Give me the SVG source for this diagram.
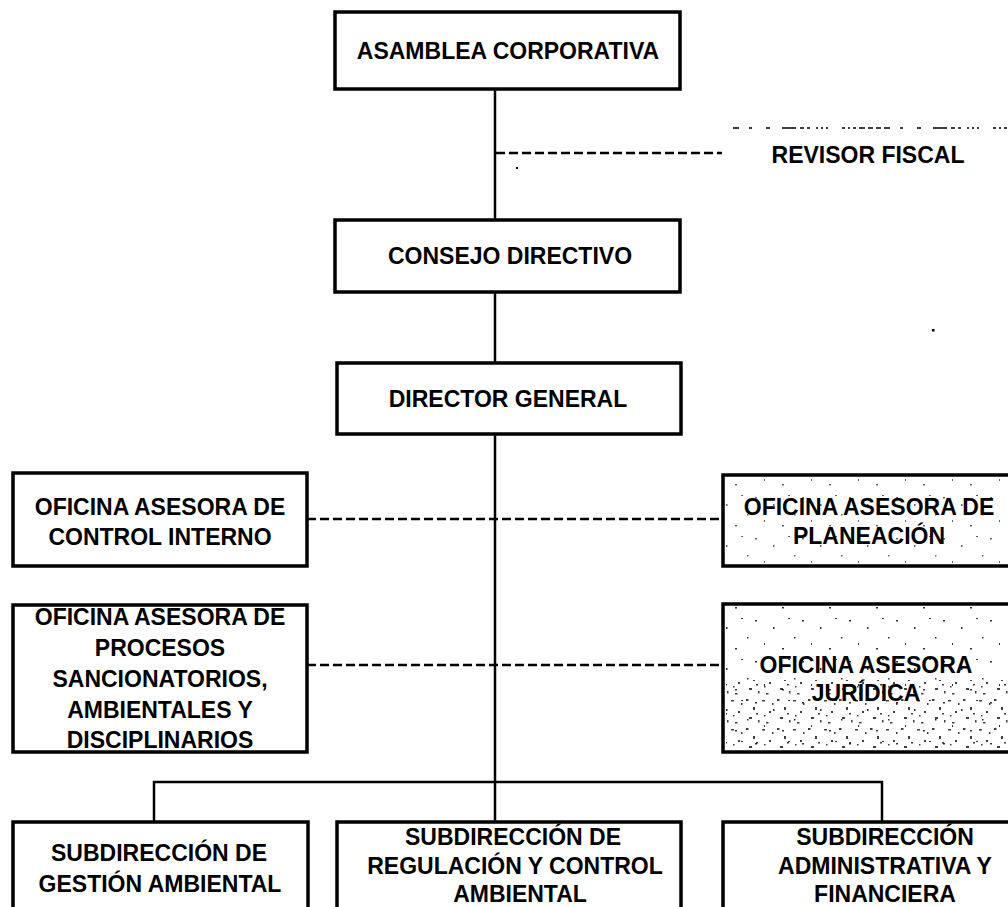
<svg xmlns="http://www.w3.org/2000/svg" width="1008" height="907" viewBox="0 0 1008 907">
<style>
.box{fill:#fff;stroke:#000;stroke-width:3.5}
.t{font-family:"Liberation Sans",Arial,sans-serif;font-weight:bold;font-size:23px;fill:#000;text-anchor:middle}
.ln{stroke:#000;stroke-width:2.5;fill:none}
.dash{stroke:#000;stroke-width:2.5;fill:none;stroke-dasharray:9 4}
</style>
<defs>
<pattern id="sp1" width="47" height="41" patternUnits="userSpaceOnUse">
<rect x="3" y="5" width="2" height="1.5" fill="#000"/>
<rect x="21" y="12" width="1.5" height="2" fill="#000"/>
<rect x="36" y="3" width="2" height="1" fill="#000"/>
<rect x="12" y="28" width="1" height="2" fill="#000"/>
<rect x="30" y="33" width="2" height="1.5" fill="#000"/>
<rect x="42" y="22" width="1.5" height="1.5" fill="#000"/>
</pattern>
<pattern id="sp2" width="31" height="29" patternUnits="userSpaceOnUse">
<rect x="2" y="3" width="2.5" height="2" fill="#000"/>
<rect x="9" y="11" width="2" height="3" fill="#000"/>
<rect x="18" y="4" width="3" height="1.5" fill="#000"/>
<rect x="25" y="15" width="2" height="2" fill="#000"/>
<rect x="5" y="21" width="3" height="2" fill="#000"/>
<rect x="14" y="24" width="1.5" height="2.5" fill="#000"/>
<rect x="22" y="26" width="2.5" height="1.5" fill="#000"/>
<rect x="28" y="7" width="1.5" height="2" fill="#000"/>
<rect x="12" y="17" width="2" height="1.5" fill="#000"/>
<rect x="20" y="19" width="1.5" height="1.5" fill="#000"/>
</pattern>
</defs>
<rect width="1008" height="907" fill="#fff"/>

<g id="connectors">
<line class="ln" x1="495" y1="89" x2="495" y2="220"/>
<line class="ln" x1="495" y1="292" x2="495" y2="363"/>
<line class="ln" x1="495" y1="434" x2="495" y2="822"/>
<line class="dash" x1="496" y1="153" x2="722" y2="153"/>
<line class="dash" x1="307" y1="519" x2="723" y2="519"/>
<line class="dash" x1="307" y1="665" x2="723" y2="665"/>
<polyline class="ln" points="154,822 154,782 882,782 882,822"/>
<line stroke="#000" stroke-width="1.5" stroke-dasharray="6 10 3 14 4 12 14 4 4 3 3 6 2 3 2 3 2 14 3 3 2 3 3 3 6 3 5 3 5 3" x1="733" y1="128" x2="1008" y2="128"/>
<rect x="516" y="167" width="2" height="2" fill="#000"/>
<rect x="932" y="329" width="2.5" height="2.5" fill="#000"/>
<line stroke="#000" stroke-width="2" x1="628" y1="902" x2="648" y2="902"/>
<line stroke="#000" stroke-width="2" x1="652" y1="902" x2="672" y2="902"/>
</g>

<g id="asamblea">
<rect class="box" x="335" y="12" width="345" height="77"/>
<text class="t" x="508" y="59">ASAMBLEA CORPORATIVA</text>
</g>
<g id="revisor">
<text class="t" x="868" y="163">REVISOR FISCAL</text>
</g>
<g id="consejo">
<rect class="box" x="335" y="220" width="345" height="72"/>
<text class="t" x="510" y="264">CONSEJO DIRECTIVO</text>
</g>
<g id="director">
<rect class="box" x="337" y="363" width="344" height="71"/>
<text class="t" x="508" y="407">DIRECTOR GENERAL</text>
</g>
<g id="control-interno">
<rect class="box" x="13" y="473" width="294" height="93"/>
<text class="t" x="160" y="515">OFICINA ASESORA DE</text>
<text class="t" x="160" y="545">CONTROL INTERNO</text>
</g>
<g id="planeacion">
<rect class="box" x="723" y="475" width="295" height="91"/>
<rect x="726" y="478" width="285" height="85" fill="url(#sp1)" opacity="0.6"/>
<text class="t" x="869" y="515">OFICINA ASESORA DE</text>
<text class="t" x="869" y="544">PLANEACIÓN</text>
</g>
<g id="procesos">
<rect class="box" x="13" y="605" width="294" height="147"/>
<text class="t" x="160" y="625">OFICINA ASESORA DE</text>
<text class="t" x="160" y="656">PROCESOS</text>
<text class="t" x="160" y="687">SANCIONATORIOS,</text>
<text class="t" x="160" y="718">AMBIENTALES Y</text>
<text class="t" x="160" y="748">DISCIPLINARIOS</text>
</g>
<g id="juridica">
<rect class="box" x="723" y="604" width="295" height="148"/>
<rect x="726" y="607" width="285" height="142" fill="url(#sp1)" opacity="0.8"/>
<rect x="726" y="680" width="285" height="69" fill="url(#sp2)" opacity="0.75"/>
<text class="t" x="866" y="673">OFICINA ASESORA</text>
<text class="t" x="866" y="701">JURÍDICA</text>
</g>
<g id="gestion">
<rect class="box" x="13" y="822" width="295" height="110"/>
<text class="t" x="159" y="861">SUBDIRECCIÓN DE</text>
<text class="t" x="160" y="892">GESTIÓN AMBIENTAL</text>
</g>
<g id="regulacion">
<rect class="box" x="337" y="822" width="344" height="110"/>
<text class="t" x="513" y="845">SUBDIRECCIÓN DE</text>
<text class="t" x="515" y="874">REGULACIÓN Y CONTROL</text>
<text class="t" x="520" y="902">AMBIENTAL</text>
</g>
<g id="administrativa">
<rect class="box" x="723" y="822" width="325" height="110"/>
<text class="t" x="885" y="845">SUBDIRECCIÓN</text>
<text class="t" x="885" y="874">ADMINISTRATIVA Y</text>
<text class="t" x="885" y="902">FINANCIERA</text>
</g>
</svg>
